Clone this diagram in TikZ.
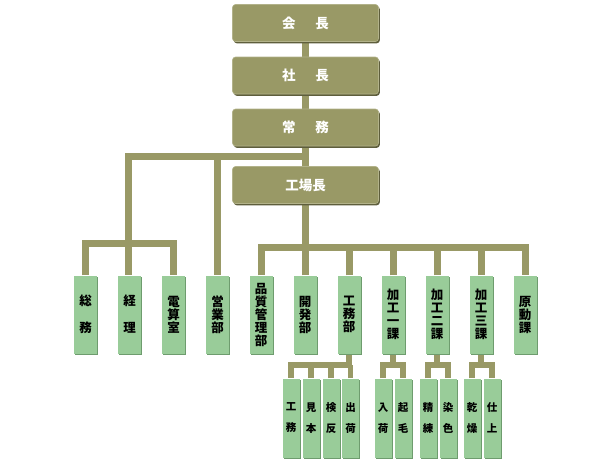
\documentclass[tikz,border=0pt]{standalone}
\usepackage{fontspec}
\newfontfamily\jp{Noto Sans CJK JP}
\usetikzlibrary{shadows}
\pgfdeclarelayer{bg}
\pgfsetlayers{bg,main}
\definecolor{olive}{HTML}{999966}
\definecolor{oliveshade}{HTML}{5E5E3C}
\definecolor{olivelight}{HTML}{B2B28A}
\definecolor{leaf}{HTML}{99CC99}
\definecolor{leafshade}{HTML}{6E9C6E}
\tikzset{
  topbox/.style={fill=olive, rounded corners=3pt, minimum width=146pt, minimum height=37pt, inner sep=0pt,
    draw=olivelight, line width=0.6pt,
    drop shadow={shadow xshift=1.3pt, shadow yshift=-1.8pt, fill=oliveshade, opacity=1},
    text=white, font=\jp\bfseries\fontsize{13.5}{14}\selectfont},
  deptbox/.style={fill=leaf, minimum width=23pt, minimum height=78pt, inner sep=0pt,
    drop shadow={shadow xshift=1.2pt, shadow yshift=-1.2pt, fill=leafshade, opacity=1},
    align=center, font=\jp\bfseries\fontsize{12.5}{13}\selectfont},
  subbox/.style={fill=leaf, minimum width=17pt, minimum height=79pt, inner sep=0pt,
    drop shadow={shadow xshift=1.1pt, shadow yshift=-1.1pt, fill=leafshade, opacity=1},
    align=center, font=\jp\bfseries\fontsize{10.5}{21}\selectfont},
  link/.style={draw=olive, line width=7pt},
  sublink/.style={draw=olive, line width=5.5pt},
}
\begin{document}
\begin{tikzpicture}[x=1pt,y=-1pt]
\useasboundingbox (0,0) rectangle (608,464);
\coordinate (j1) at (305.5,156);
\coordinate (j3) at (128.5,243.5);
\coordinate (j5) at (305.5,247.5);
\coordinate (m1) at (349,365);
\coordinate (m2) at (393,365);
\coordinate (m3) at (437,365);
\coordinate (m4) at (481,365);
% top boxes
\node[topbox] (kaicho) at (305.5,23) {会\hspace{1.45em}長};
\node[topbox] (shacho) at (305.5,75.5) {社\hspace{1.45em}長};
\node[topbox] (jomu) at (305.5,127.5) {常\hspace{1.45em}務};
\node[topbox] (kojo) at (305.5,185) {工場長};
% departments
\node[deptbox] (somu) at (85.5,314.5) {総\\[14pt]務};
\node[deptbox] (keiri) at (129.5,314.5) {経\\[14pt]理};
\node[deptbox] (densan) at (173.5,314.5) {電\\算\\室};
\node[deptbox] (eigyo) at (217.5,314.5) {営\\業\\部};
\node[deptbox] (hinshitsu) at (261,314.5) {品\\質\\管\\理\\部};
\node[deptbox] (kaihatsu) at (305,314.5) {開\\発\\部};
\node[deptbox] (komubu) at (349,314.5) {工\\務\\部};
\node[deptbox] (kako1) at (393,314.5) {加\\工\\一\\課};
\node[deptbox] (kako2) at (437,314.5) {加\\工\\二\\課};
\node[deptbox] (kako3) at (481,314.5) {加\\工\\三\\課};
\node[deptbox] (gendo) at (525,314.5) {原\\動\\課};
% sub sections
\node[subbox] (s1) at (291,418) {工\\務};
\node[subbox] (s2) at (311,418) {見\\本};
\node[subbox] (s3) at (331,418) {検\\反};
\node[subbox] (s4) at (350.5,418) {出\\荷};
\node[subbox] (s5) at (383,418) {入\\荷};
\node[subbox] (s6) at (403,418) {起\\毛};
\node[subbox] (s7) at (428,418) {精\\練};
\node[subbox] (s8) at (448,418) {染\\色};
\node[subbox] (s9) at (472,418) {乾\\燥};
\node[subbox] (s10) at (492,418) {仕\\上};
% connectors
\begin{pgfonlayer}{bg}
\draw[link] (kaicho.south) -- (shacho.north);
\draw[link] (shacho.south) -- (jomu.north);
\draw[link] (jomu.south) -- (kojo.north);
\draw[link] (j1) -| (j3);
\draw[link] (somu.north) |- (j3) -| (densan.north);
\draw[link] (j3) -- (keiri.north -| j3);
\draw[link] (j1) -| (eigyo.north);
\draw[link] (kojo.south) -- (j5);
\draw[link] (hinshitsu.north) |- (j5) -| (gendo.north);
\foreach \n in {kaihatsu,komubu,kako1,kako2,kako3}
  \draw[link] (\n.north) -- (\n.north |- j5);
\draw[sublink] (komubu.south) -- (m1) -| (s1.north);
\foreach \n in {s2,s3,s4}
  \draw[sublink] (\n.north) -- (\n.north |- m1);
\draw[sublink] (kako1.south) -- (m2);
\draw[sublink] (s5.north) |- (m2) -| (s6.north);
\draw[sublink] (kako2.south) -- (m3);
\draw[sublink] (s7.north) |- (m3) -| (s8.north);
\draw[sublink] (kako3.south) -- (m4);
\draw[sublink] (s9.north) |- (m4) -| (s10.north);
\end{pgfonlayer}
\end{tikzpicture}
\end{document}
